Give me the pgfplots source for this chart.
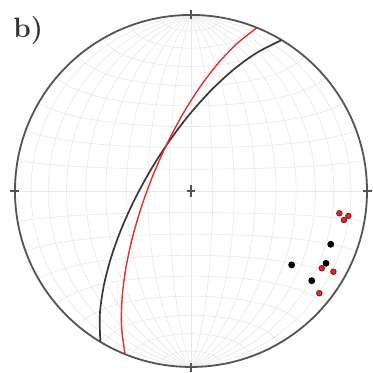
\documentclass[border=0pt]{standalone}
\usepackage{pgfplots}
\pgfplotsset{compat=1.18}
\definecolor{netgrey}{gray}{0.91}
\definecolor{rim}{gray}{0.33}
\definecolor{planeblack}{gray}{0.22}
\definecolor{planered}{RGB}{226,48,48}
\definecolor{polered}{RGB}{220,40,40}

% great circles (lower hemisphere, equal-area, unit primitive)
\pgfplotstableread{
x y
 0.5150  0.8572
 0.3750  0.7859
 0.2414  0.6892
 0.1141  0.5717
-0.0063  0.4376
-0.1185  0.2901
-0.2209  0.1328
-0.3118 -0.0315
-0.3893 -0.1998
-0.4512 -0.3691
-0.4951 -0.5368
-0.5177 -0.7002
-0.5150 -0.8572
}\planeA
\pgfplotstableread{
x y
 0.3746  0.9272
 0.2543  0.8310
 0.1429  0.7119
 0.0398  0.5744
-0.0550  0.4221
-0.1408  0.2587
-0.2164  0.0875
-0.2809 -0.0884
-0.3328 -0.2654
-0.3704 -0.4408
-0.3917 -0.6114
-0.3943 -0.7744
-0.3746 -0.9272
}\planeB

\begin{document}
\begin{tikzpicture}
\begin{axis}[
  scale only axis, width=184.5pt, height=186.5pt,
  xmin=-1.085, xmax=1.011, ymin=-1.034, ymax=1.085,
  hide axis, clip=false,
]
\path (rel axis cs:0,0) rectangle (rel axis cs:1,1);
% net: great circles striking N-S and small circles about the N-S axis, every 10 degrees
\pgfplotsinvokeforeach{10,20,...,90}{
  \addplot[netgrey, line width=0.3pt, domain=0:180, samples=37, smooth]
    ({cos(#1)*sin(x)/sqrt(1+sin(#1)*sin(x))}, {cos(x)/sqrt(1+sin(#1)*sin(x))});
  \addplot[netgrey, line width=0.3pt, domain=0:180, samples=37, smooth]
    ({-cos(#1)*sin(x)/sqrt(1+sin(#1)*sin(x))}, {cos(x)/sqrt(1+sin(#1)*sin(x))});
  \addplot[netgrey, line width=0.3pt, domain=0:180, samples=37, smooth]
    ({sin(#1)*cos(x)/sqrt(1+sin(#1)*sin(x))}, {cos(#1)/sqrt(1+sin(#1)*sin(x))});
  \addplot[netgrey, line width=0.3pt, domain=0:180, samples=37, smooth]
    ({sin(#1)*cos(x)/sqrt(1+sin(#1)*sin(x))}, {-cos(#1)/sqrt(1+sin(#1)*sin(x))});
}
% primitive circle, cardinal ticks and centre cross
\draw[rim, line width=0.9pt] (axis cs:0,0) circle[radius=88.02pt];
\draw[rim, line width=0.7pt] (axis cs:0,0.975) -- (axis cs:0,1.03)
  (axis cs:0,-0.975) -- (axis cs:0,-1.03)
  (axis cs:0.975,0) -- (axis cs:1.03,0)
  (axis cs:-0.975,0) -- (axis cs:-1.03,0);
\draw[rim, line width=0.8pt] (axis cs:0,-0.035) -- (axis cs:0,0.035)
  (axis cs:-0.025,0) -- (axis cs:0.025,0);
% mean planes
\addplot[planeblack, line width=0.85pt, smooth] table {\planeA};
\addplot[planered, line width=0.7pt, smooth] table {\planeB};
% poles
\addplot[only marks, mark=*, mark size=1.5pt, black] coordinates {
  (0.794,-0.303) (0.572,-0.420) (0.767,-0.411) (0.686,-0.510)};
\addplot[only marks, mark=*, mark size=1.4pt, draw=polered!60!black, fill=polered, line width=0.4pt] coordinates {
  (0.843,-0.127) (0.894,-0.142) (0.869,-0.165)
  (0.743,-0.439) (0.809,-0.459) (0.729,-0.581)};
\node[anchor=base west, inner sep=0pt, text=black!80, font=\fontsize{14}{14}\selectfont\bfseries]
  at (axis cs:-1.011,0.872) {b)};
\end{axis}
\end{tikzpicture}
\end{document}
